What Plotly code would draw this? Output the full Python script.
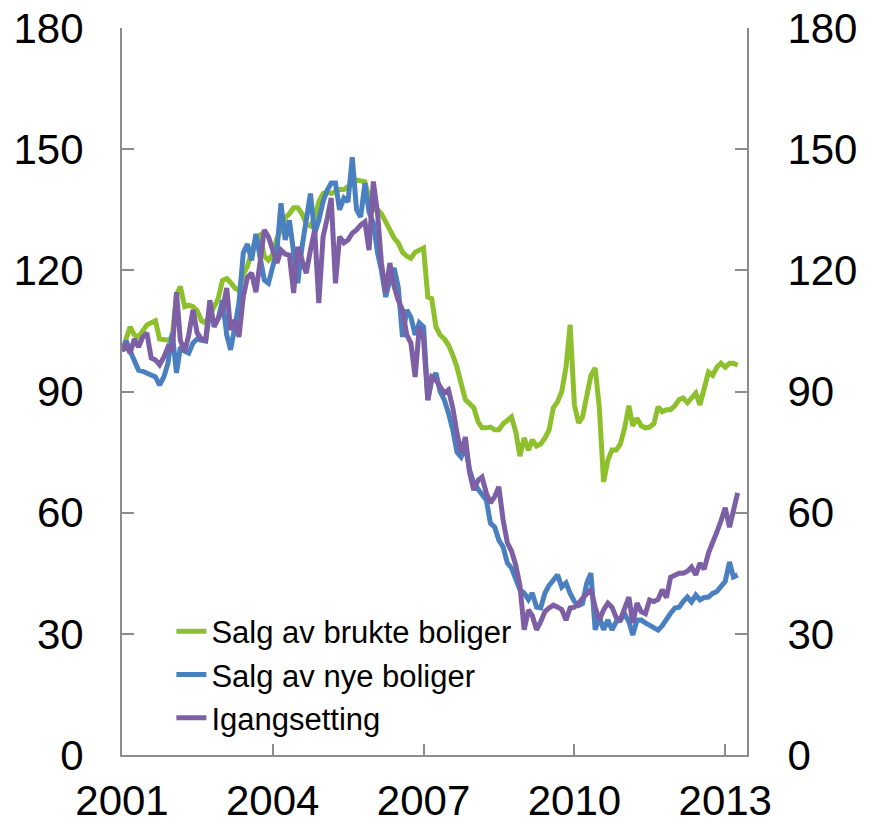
import pandas as pd
import plotly.graph_objects as go

# Monthly index values (Jan 2001 = 100), Jan 2001 - Apr 2013
brukte = [100, 103, 106, 104, 103.5, 105, 106.5, 107, 107.5, 103, 102.7, 102.7,
          103.5, 114, 116, 111, 111.4, 111, 110, 107.5, 107, 109, 111, 113,
          117.5, 118, 117, 115.6, 115, 119, 121, 125, 128, 128.7, 123.5, 122.5,
          124, 128, 130, 133, 134, 135.5, 135.5, 134, 131.5, 131, 133, 137,
          139, 139.4, 139, 139.5, 140, 140, 140.6, 141.5, 142.4, 142, 141.9, 138,
          135, 135, 134, 132, 130, 128, 126.8, 124.5, 123.5, 123, 124.5, 125,
          125.5, 113.4, 113, 106, 104, 103, 101.5, 99, 96, 92, 88, 87,
          86, 82.5, 81, 81, 81.2, 80.5, 80.5, 82, 83, 83.7, 80, 74,
          78.5, 75.5, 78, 76.5, 77, 78.5, 80.5, 86, 87.5, 90, 96, 106.5,
          86.6, 82.2, 83.7, 89, 94, 95.8, 86, 67.6, 73, 75.5, 75.5, 77,
          81, 86.5, 81.5, 83.4, 81.5, 81, 81.2, 82, 86.2, 85, 85.5, 85.5,
          86.5, 88, 88.4, 87.2, 88.5, 89.6, 86.7, 91, 94.8, 94, 96, 97,
          96, 97, 97, 96.5]

nye = [100, 102.5, 100, 97.5, 95.3, 95, 94.6, 94, 93.6, 91.6, 93.6, 97,
       104.5, 94.6, 101, 100, 99.5, 102, 103, 102.7, 102.5, 110, 107, 108,
       112.6, 104, 100.3, 106, 112, 124.3, 126.5, 122.5, 129, 123.3, 117.6, 116.8,
       120.8, 125, 136.6, 127.5, 132.4, 124.3, 116.8, 125.8, 133.2, 139, 129.2, 132.4,
       137, 139.9, 141.6, 141.6, 135, 137.9, 137, 148, 135, 133.2, 141.6, 134.4,
       131.7, 124.3, 120, 113.4, 117.6, 120.6, 115.9, 103.5, 110.2, 108.4, 104, 107,
       106, 87.9, 92.8, 94.6, 90, 87.9, 84.7, 80.5, 75, 73.8, 76.3, 70.6,
       67.3, 65.6, 64.5, 63.1, 57.4, 56.4, 53.2, 51.5, 47.5, 46.3, 43.3, 40.9,
       40.1, 38.5, 40.1, 36.6, 36.4, 40.1, 42, 43.5, 44.6, 41.6, 42.6, 40,
       38, 37, 37.5, 42.6, 45, 31, 34.2, 31, 33.4, 31, 33, 33.4,
       35, 33, 29.7, 33.4, 33.4, 32.7, 32.2, 31.7, 30.9, 32, 33.8, 35.1,
       36.4, 36.6, 38, 39.1, 37.9, 39.6, 38.4, 39, 39.1, 40, 40.5, 41.6,
       43, 47.8, 44.1, 44.6]

igang = [100, 101.5, 99.5, 103, 101, 103.5, 104.5, 98.3, 97.8, 96.6, 98.5, 101,
         100, 114.6, 102.7, 99.8, 104, 110.2, 104.5, 103, 102.7, 112.6, 106, 108,
         110.2, 115.6, 105.2, 107.7, 103.5, 113.4, 118.3, 119.3, 114.6, 122, 130, 128.3,
         125, 121.8, 125, 124, 123.8, 114.4, 125.8, 122, 119.3, 125, 130, 111.9,
         128.3, 133, 137.9, 116.8, 128.3, 126.8, 127.5, 129.2, 130, 131.2, 132, 125,
         142, 134, 121.8, 114.4, 121.8, 116, 112.6, 110.2, 104, 102, 93.6, 106,
         103, 87.9, 93.6, 92.8, 91, 89.6, 90.4, 86, 79.7, 74.8, 78.7, 70,
         65.6, 68, 68.8, 64.9, 62.4, 64, 66.4, 58.2, 52.5, 50.5, 47, 42,
         31, 35.9, 34.5, 31, 33, 35.5, 36.4, 37.1, 36.6, 36, 33.4, 36.4,
         36.6, 37.5, 38.8, 40, 41, 36.6, 33.4, 35.9, 37.6, 36.6, 34, 33.5,
         36, 39.1, 32.7, 37.6, 35.5, 35, 38.4, 38, 38.5, 40.9, 39, 44,
         44.5, 45, 45, 45.5, 46.5, 44.6, 47.5, 46, 50, 53, 55.2, 58,
         61.2, 56.4, 60.7, 64.9]

series_names = ["Salg av brukte boliger", "Salg av nye boliger", "Igangsetting"]
colors = ["#8DC02C", "#4A80BF", "#7D5FA5"]

dates = pd.date_range("2001-01-01", periods=len(brukte), freq="MS")

year_ticks = ["2001", "2004", "2007", "2010", "2013"]
y_ticks = [0, 30, 60, 90, 120, 150, 180]

fig = go.Figure()
for name, vals, col in zip(series_names, [brukte, nye, igang], colors):
    fig.add_trace(go.Scatter(x=dates, y=vals, mode="lines", name=name,
                             line=dict(color=col, width=5)))

# invisible helper so the right-hand axis is drawn
fig.add_trace(go.Scatter(x=[dates[0]], y=[y_ticks[0]], yaxis="y2", mode="markers",
                         marker=dict(opacity=0), showlegend=False, hoverinfo="skip"))

axis_col = "#8C8C8C"
font_fam = "Liberation Sans, Arial, sans-serif"

# page adds an 8px body margin, so the figure is sized to fit the 873x826 window
fig.update_layout(
    width=865, height=818,
    margin=dict(l=114, r=126, t=20, b=71, autoexpand=False),
    paper_bgcolor="white", plot_bgcolor="white",
    font=dict(family=font_fam, color="black"),
    showlegend=True,
    legend=dict(x=0.079, y=0.207, xanchor="left", yanchor="top",
                font=dict(size=31, family=font_fam),
                bgcolor="rgba(0,0,0,0)", tracegroupgap=0, itemwidth=30),
    xaxis=dict(
        type="date", automargin=False,
        range=["2001-01-01", "2013-06-08"],
        tickvals=[y + "-01-01" for y in year_ticks],
        ticktext=year_ticks,
        ticks="inside", ticklen=11, tickwidth=1.5, tickcolor=axis_col,
        showline=True, linecolor=axis_col, linewidth=2,
        showgrid=False, zeroline=False,
        tickfont=dict(size=42),
        ticklabelstandoff=8, ticklabeloverflow="allow",
    ),
    yaxis=dict(
        range=[0, 180], tickvals=y_ticks, automargin=False,
        ticks="inside", ticklen=12, tickwidth=2, tickcolor=axis_col,
        showline=True, linecolor=axis_col, linewidth=2,
        showgrid=False, zeroline=False,
        tickfont=dict(size=42),
        ticklabelstandoff=28, ticklabeloverflow="allow",
    ),
    yaxis2=dict(
        range=[0, 180], tickvals=y_ticks, overlaying="y", side="right", automargin=False,
        ticks="inside", ticklen=12, tickwidth=2, tickcolor=axis_col,
        showline=True, linecolor=axis_col, linewidth=2,
        showgrid=False, zeroline=False,
        tickfont=dict(size=42),
        ticklabelstandoff=30, ticklabeloverflow="allow",
    ),
)

fig.write_html("out.html")
